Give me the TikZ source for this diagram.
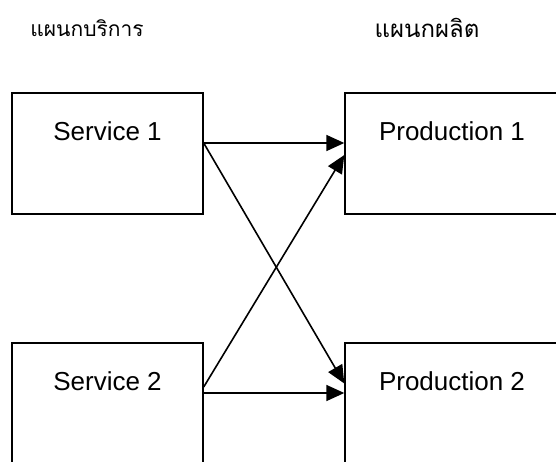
\documentclass[tikz,border=0pt]{standalone}
\usepackage{fontspec}
\setmainfont{Liberation Sans}
\newfontfamily\thaifont[Script=Thai]{Loma}
\usetikzlibrary{arrows.meta}

\begin{document}
\begin{tikzpicture}[x=1pt,y=1pt,>/.tip={Triangle[length=18pt,width=16pt]},
  dept/.style={draw,line width=1.4pt,minimum height=121pt,inner sep=0pt},
  lbl/.style={anchor=base,font=\fontsize{26}{30}\selectfont},
  head/.style={font=\thaifont\fontsize{#1}{30}\selectfont}]
\clip (0,0) rectangle (556,461);

\draw (107.5,307.5) node (s1) [dept,minimum width=191pt] {};
\draw (107.5,57.5)  node (s2) [dept,minimum width=191pt] {};
\draw (452,307.5)   node (p1) [dept,minimum width=214pt] {};
\draw (452,57.5)    node (p2) [dept,minimum width=214pt] {};

\node [lbl] (s1t) at ([yshift=-48.5pt]s1.north) {Service 1};
\node [lbl] (s2t) at ([yshift=-48.5pt]s2.north) {Service 2};
\node [lbl] (p1t) at ([yshift=-48.5pt]p1.north) {Production 1};
\node [lbl] (p2t) at ([yshift=-48.5pt]p2.north) {Production 2};

\node [head=21] (hs) at (87,433)  {แผนกบริการ};
\node [head=24] (hp) at (427,433) {แผนกผลิต};

% connection points on the box sides
\coordinate (s1o)  at ([yshift=10.5pt]s1.east);
\coordinate (s2o)  at ([yshift=10.5pt]s2.east);
\coordinate (s2d)  at ([yshift=16.5pt]s2.east);
\coordinate (p1i)  at ([yshift=10.5pt]p1.west);
\coordinate (p1d)  at ([yshift=-1.5pt]p1.west);
\coordinate (p2i)  at ([yshift=10.5pt]p2.west);
\coordinate (p2d)  at ([yshift=20pt]p2.west);

\draw[->,line width=1.6pt] (s1o) -- (p1i);
\draw[->,line width=1.6pt] (s1o) -- (p2d);
\draw[->,line width=1.6pt] (s2d) -- (p1d);
\draw[->,line width=1.6pt] (s2o) -- (p2i);

\end{tikzpicture}
\end{document}
